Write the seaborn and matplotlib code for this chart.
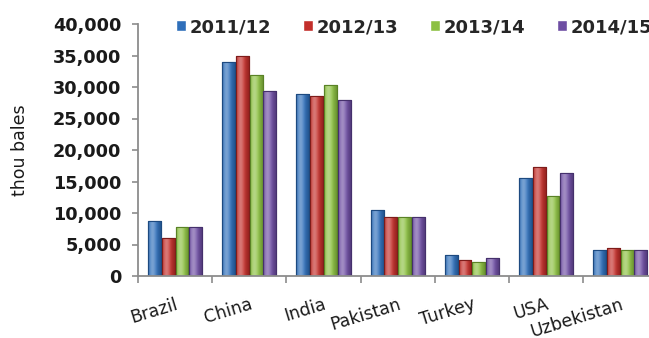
import numpy as np
import pandas as pd
import matplotlib
matplotlib.use("Agg")
import matplotlib.pyplot as plt
import matplotlib.transforms as mtransforms
from matplotlib.colors import to_rgb
import seaborn as sns

# Cotton production by country, thousand bales
countries = ["Brazil", "China", "India", "Pakistan", "Turkey", "USA", "Uzbekistan"]
seasons = ["2011/12", "2012/13", "2013/14", "2014/15"]
prod_2011_12 = [8700, 34000, 28900, 10500, 3400, 15500, 4200]
prod_2012_13 = [6000, 35000, 28500, 9300, 2600, 17300, 4400]
prod_2013_14 = [7700, 31900, 30300, 9300, 2200, 12700, 4100]
prod_2014_15 = [7800, 29400, 27900, 9300, 2900, 16400, 4100]
yticks = [0, 5000, 10000, 15000, 20000, 25000, 30000, 35000, 40000]

series = [prod_2011_12, prod_2012_13, prod_2013_14, prod_2014_15]
df = pd.DataFrame({
    "country": np.tile(countries, len(seasons)),
    "season": np.repeat(seasons, len(countries)),
    "bales": np.concatenate(series),
})

colors = ["#2f6fba", "#c32f2b", "#8cc042", "#6e4ea3"]
edges = ["#1d4a80", "#7e1c1a", "#5a8226", "#45306c"]

sns.set_style("white")
plt.rcParams["font.family"] = ["DejaVu Sans"]

fig = plt.figure(figsize=(6.49, 3.38), dpi=100)
ax = fig.add_axes([138 / 649, 1 - 276 / 338, 7 * 74.2 / 649, (276 - 24) / 338])

sns.barplot(data=df, x="country", y="bales", hue="season", order=countries,
            hue_order=seasons, palette=colors, width=0.74, gap=0.06,
            saturation=1, legend=True, ax=ax)


def shaded(base, n=32):
    """Horizontal cylinder-like shading across one bar."""
    rgb = np.array(to_rgb(base))
    t = np.linspace(0, 1, n)
    light = np.exp(-((t - 0.35) / 0.28) ** 2) * 0.35
    dark = np.clip(t - 0.6, 0, None) * 0.55 + np.clip(0.12 - t, 0, None) * 1.5
    row = rgb * (1 - dark[:, None]) + (1 - rgb) * light[:, None]
    return np.clip(row, 0, 1)[None, :, :]


# shade each bar and outline it with a darker tone of its series colour
for cont, base, ec in zip(ax.containers, colors, edges):
    grad = shaded(base)
    for bar in cont:
        bar.set_edgecolor(ec)
        bar.set_linewidth(0.8)
        x0, w, h = bar.get_x(), bar.get_width(), bar.get_height()
        im = ax.imshow(grad, extent=(x0, x0 + w, 0, h), aspect="auto",
                       interpolation="bilinear", zorder=bar.get_zorder() + 0.1)
        im.set_clip_path(bar)
        outline = plt.Rectangle((x0, 0), w, h, fill=False, edgecolor=ec,
                                linewidth=0.8, zorder=bar.get_zorder() + 0.2)
        ax.add_patch(outline)

ax.set_xlim(-0.5, len(countries) - 0.5)
ax.set_ylim(0, 40000)
ax.set_yticks(yticks)
ax.set_yticklabels([f"{v:,}" for v in yticks], fontsize=12.7, fontweight="bold",
                   color="#1a1a1a")
ax.set_xlabel("")
ax.set_ylabel("")
fig.text(20 / 649, 1 - 150 / 338, "thou bales", rotation=90, ha="center",
         va="center", fontsize=12.5, color="#1a1a1a")

ax.set_xticks(range(len(countries)))
ax.set_xticklabels(countries, rotation=17, ha="right", rotation_mode="anchor",
                   fontsize=12.5, color="#1a1a1a")
shift = mtransforms.ScaledTranslation(4 / 100, 0, fig.dpi_scale_trans)
for lbl in ax.get_xticklabels():
    lbl.set_transform(lbl.get_transform() + shift)
ax.set_xticks(np.arange(-0.5, len(countries), 1), minor=True)
ax.tick_params(axis="x", which="major", length=0, pad=14)
ax.tick_params(axis="x", which="minor", length=5, width=1.2, color="#8c8c8c",
               direction="out", bottom=True)
ax.tick_params(axis="y", which="major", length=4, width=1.2, color="#8c8c8c",
               direction="out", left=True, pad=8)

for side in ["top", "right"]:
    ax.spines[side].set_visible(False)
for side in ["left", "bottom"]:
    ax.spines[side].set_color("#8c8c8c")
    ax.spines[side].set_linewidth(1.3)
    ax.spines[side].set_zorder(5)

handles, labels = ax.get_legend_handles_labels()
ax.get_legend().remove()
leg = fig.legend(handles, labels, loc="center left",
                 bbox_to_anchor=(176 / 649, 1 - 27 / 338), ncol=4, frameon=False,
                 prop={"size": 13, "weight": "bold"}, handlelength=0.55,
                 handleheight=0.55, handletextpad=0.2, columnspacing=1.77,
                 borderpad=0, borderaxespad=0)

fig.savefig("out.png", dpi=100)
